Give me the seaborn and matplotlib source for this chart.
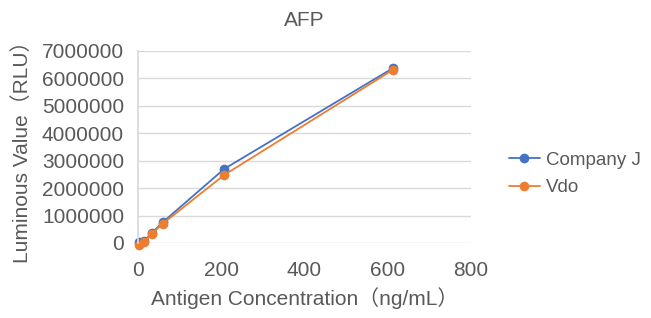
import matplotlib
matplotlib.use("Agg")
import matplotlib.pyplot as plt
import pandas as pd
import seaborn as sns

# values
concentration = [2, 15, 33, 59, 207, 613]
company_j = [20000, 80000, 360000, 750000, 2700000, 6380000]
vdo = [-60000, 40000, 330000, 700000, 2480000, 6320000]
series_names = ["Company J", "Vdo"]

df = pd.DataFrame({
    "Concentration": concentration * 2,
    "RLU": company_j + vdo,
    "Series": [series_names[0]] * len(concentration) + [series_names[1]] * len(concentration),
})

sns.set_theme(style="white")
plt.rcParams["font.family"] = ["Liberation Sans", "Noto Sans CJK SC", "DejaVu Sans"]
text_color = "#595959"

fig = plt.figure(figsize=(6.51, 3.18), dpi=100)
ax = fig.add_axes([138 / 651, 1 - 243 / 318, (471 - 138) / 651, (243 - 51) / 318])

sns.lineplot(
    data=df, x="Concentration", y="RLU", hue="Series",
    palette=["#4472C4", "#ED7D31"], marker="o", markersize=7,
    markeredgewidth=0, linewidth=1.3, ax=ax, clip_on=False,
)

ax.set_xlim(0, 800)
ax.set_ylim(0, 7000000)
ax.set_xticks([0, 200, 400, 600, 800])
ax.set_yticks(range(0, 7000001, 1000000))
ax.ticklabel_format(style="plain", axis="y")
ax.grid(axis="y", color="#d9d9d9", linewidth=1)
ax.set_axisbelow(True)
for side in ["top", "right", "bottom"]:
    ax.spines[side].set_visible(False)
ax.spines["left"].set_color("#d9d9d9")
ax.tick_params(axis="both", length=0, labelsize=15, colors=text_color, pad=10)
ax.tick_params(axis="x", pad=13)

ax.set_title("AFP", fontsize=15, color=text_color, pad=18)
ax.set_xlabel("Antigen Concentration（ng/mL）", fontsize=15, color=text_color, labelpad=5)
ax.set_ylabel("Luminous Value（RLU）", fontsize=15, color=text_color, labelpad=7)

leg = fig.legend(
    handles=ax.get_legend_handles_labels()[0], labels=series_names,
    loc="center left", bbox_to_anchor=(509 / 651, 1 - 174 / 318), frameon=False,
    fontsize=13.5, handlelength=1.65, handletextpad=0.3, labelspacing=0.55,
    borderpad=0, borderaxespad=0,
)
ax.get_legend().remove()
for t in leg.get_texts():
    t.set_color(text_color)

fig.savefig("out.png", dpi=100)
